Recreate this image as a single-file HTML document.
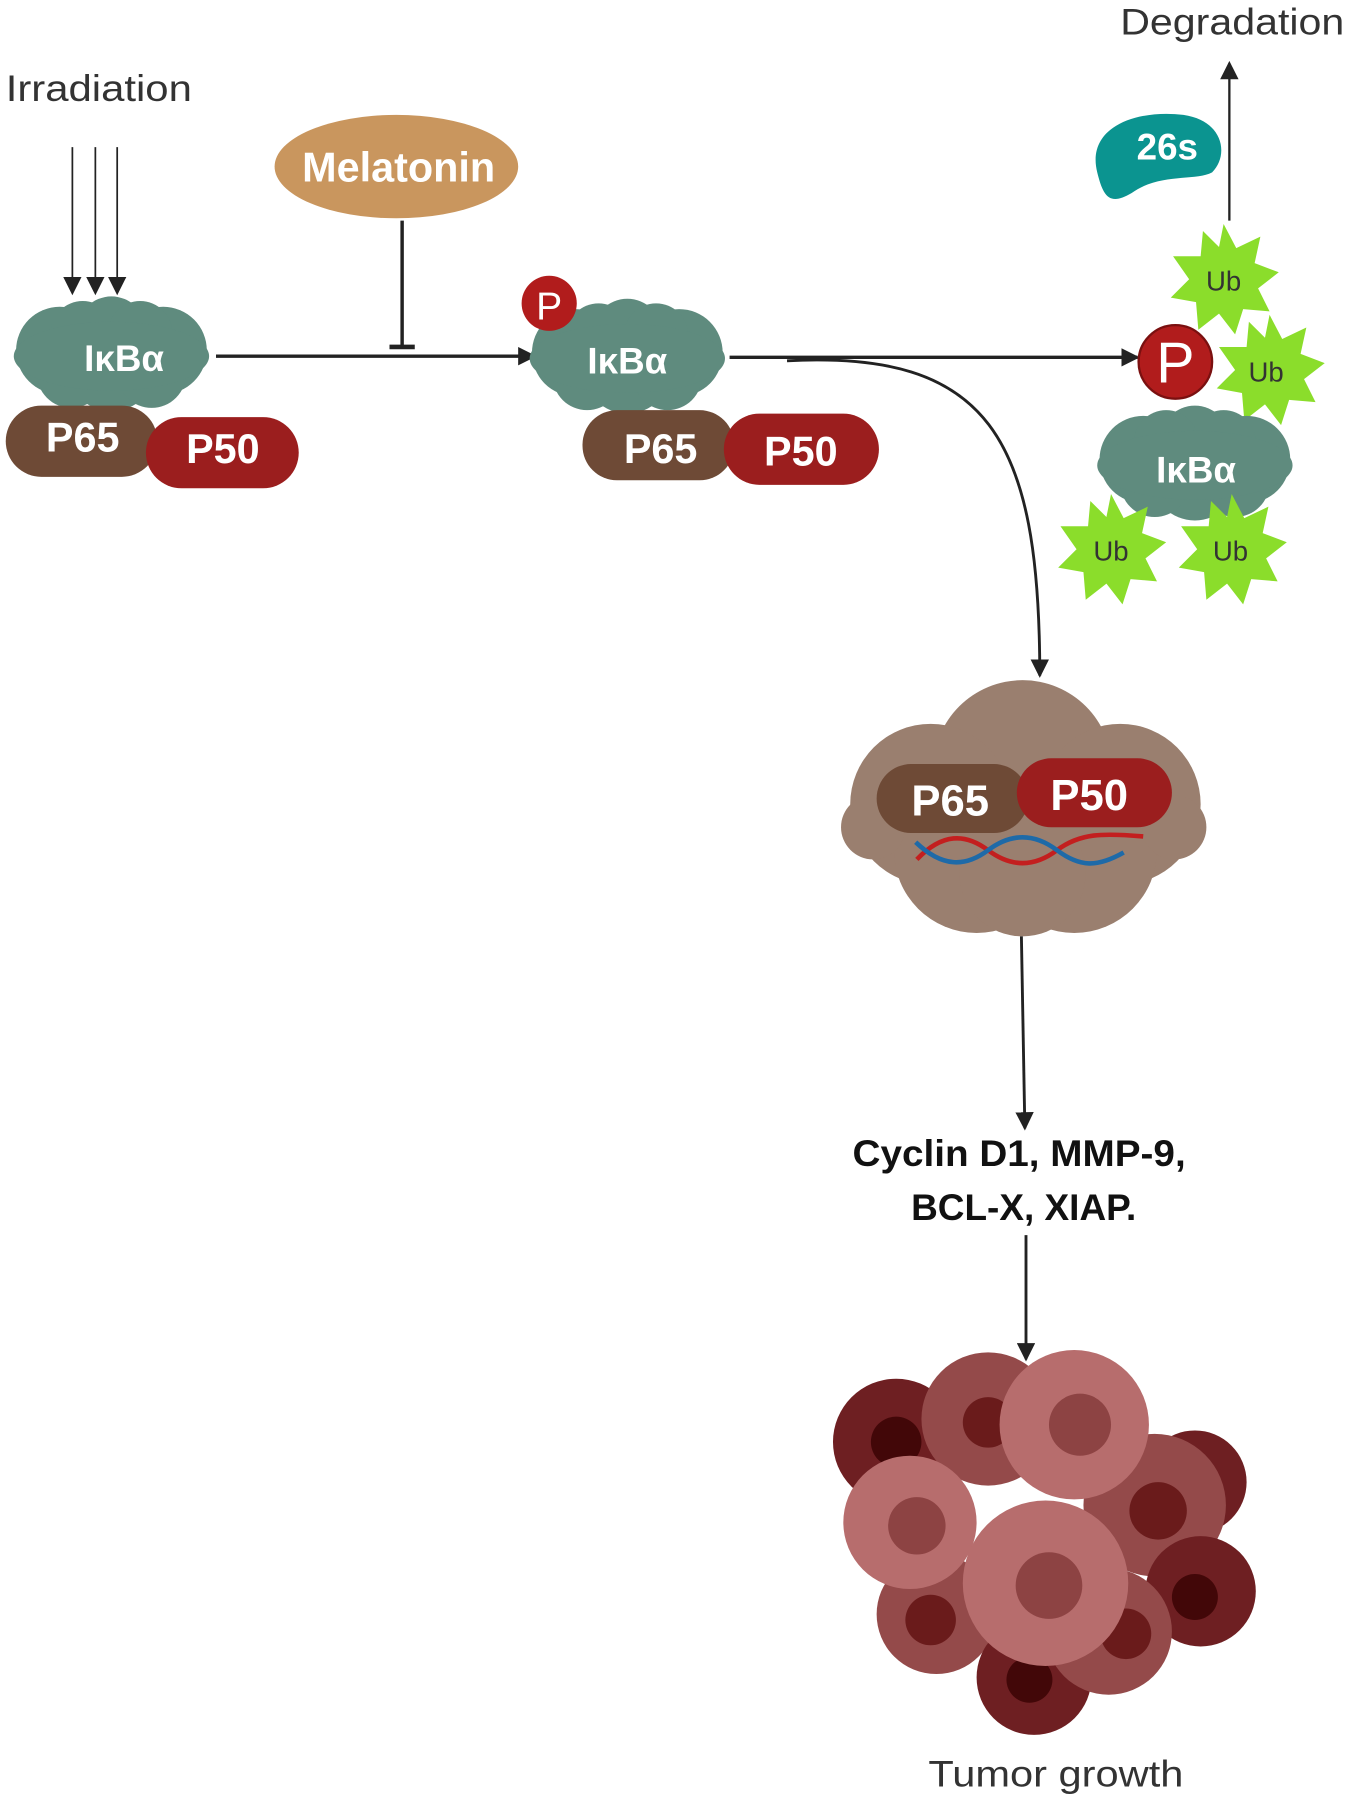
<!DOCTYPE html>
<html><head><meta charset="utf-8"><style>
html,body{margin:0;padding:0;background:#fff;}
svg{display:block;}
text{font-family:"Liberation Sans","DejaVu Sans",sans-serif;}
</style></head><body>
<svg width="1350" height="1805" viewBox="0 0 1175 1571" preserveAspectRatio="none" xmlns="http://www.w3.org/2000/svg">
<defs>
<marker id="ah2" markerWidth="16" markerHeight="16" refX="14" refY="8" orient="auto" markerUnits="userSpaceOnUse"><path d="M0,0 L16,8 L0,16 z" fill="#222"/></marker>
<g id="cloud">
<circle cx="-45" cy="-5" r="38"/><circle cx="45" cy="-5" r="38"/><circle cx="0" cy="-22" r="30"/><circle cx="-25" cy="-20" r="28"/><circle cx="25" cy="-20" r="28"/><circle cx="0" cy="10" r="38"/><circle cx="-35" cy="15" r="30"/><circle cx="35" cy="15" r="30"/><ellipse cx="0" cy="0" rx="85" ry="30"/>
</g>
<polygon id="star" points="0,-48 11,-27 32,-37 27,-14 48,-6 30,8 40,28 17,26 10,48 -4,30 -22,44 -24,20 -46,16 -30,0 -44,-20 -20,-20 -18,-42 -4,-28" fill="#8bdd2b"/>
</defs>

<text x="5" y="88" font-size="32" fill="#333" textLength="162" lengthAdjust="spacingAndGlyphs">Irradiation</text>
<g stroke="#222" stroke-width="1.5" fill="none">
<line x1="63" y1="128" x2="63" y2="255" marker-end="url(#ah2)"/>
<line x1="83" y1="128" x2="83" y2="255" marker-end="url(#ah2)"/>
<line x1="102" y1="128" x2="102" y2="255" marker-end="url(#ah2)"/>
</g>

<use href="#cloud" x="97" y="310" fill="#5f8b7e"/>
<text x="108" y="323" font-size="32" fill="#fff" text-anchor="middle" font-weight="bold">IκBα</text>
<rect x="5" y="353" width="132" height="62" rx="31" fill="#6e4a36"/>
<text x="72" y="393" font-size="36" fill="#fff" text-anchor="middle" font-weight="bold">P65</text>
<rect x="127" y="363" width="133" height="62" rx="31" fill="#9b1e1e"/>
<text x="194" y="403" font-size="36" fill="#fff" text-anchor="middle" font-weight="bold">P50</text>

<ellipse cx="345" cy="145" rx="106" ry="45" fill="#c9965e"/>
<text x="347" y="158" font-size="36" fill="#fff" text-anchor="middle" font-weight="bold">Melatonin</text>
<line x1="350" y1="192" x2="350" y2="302" stroke="#222" stroke-width="3"/>
<line x1="339" y1="302" x2="361" y2="302" stroke="#222" stroke-width="4"/>

<line x1="188" y1="310" x2="465" y2="310" stroke="#222" stroke-width="3" marker-end="url(#ah2)"/>

<use href="#cloud" x="546" y="312" fill="#5f8b7e"/>
<circle cx="478" cy="264" r="24" fill="#b11c1c"/>
<text x="478" y="278" font-size="34" fill="#fff" text-anchor="middle">P</text>
<text x="546" y="325" font-size="32" fill="#fff" text-anchor="middle" font-weight="bold">IκBα</text>
<rect x="507" y="357" width="132" height="61" rx="30" fill="#6e4a36"/>
<text x="575" y="403" font-size="36" fill="#fff" text-anchor="middle" font-weight="bold">P65</text>
<rect x="630" y="360" width="135" height="62" rx="31" fill="#9b1e1e"/>
<text x="697" y="405" font-size="36" fill="#fff" text-anchor="middle" font-weight="bold">P50</text>

<line x1="635" y1="311" x2="990" y2="311" stroke="#222" stroke-width="3" marker-end="url(#ah2)"/>
<path d="M685,314 C860,305 905,380 905,588" stroke="#222" stroke-width="2.5" fill="none" marker-end="url(#ah2)"/>

<path d="M955,150 C945,110 990,95 1030,100 C1065,105 1070,135 1055,150 C1040,158 1010,150 985,168 C965,180 960,170 955,150 z" fill="#0b9490"/>
<text x="1016" y="139" font-size="32" fill="#fff" text-anchor="middle" font-weight="bold">26s</text>
<line x1="1070" y1="192" x2="1070" y2="55" stroke="#222" stroke-width="2" marker-end="url(#ah2)"/>
<text x="975" y="30" font-size="32" fill="#333" textLength="195" lengthAdjust="spacingAndGlyphs">Degradation</text>

<use href="#star" x="1065" y="243"/>
<use href="#star" x="1105" y="322"/>
<use href="#cloud" x="1040" y="405" fill="#5f8b7e"/>
<use href="#star" x="967" y="478"/>
<use href="#star" x="1072" y="478"/>
<circle cx="1023" cy="315" r="32" fill="#b11c1c" stroke="#7a1010" stroke-width="2"/>
<text x="1023" y="333" font-size="50" fill="#fff" text-anchor="middle">P</text>
<text x="1065" y="253" font-size="24" fill="#333" text-anchor="middle">Ub</text>
<text x="1102" y="332" font-size="24" fill="#333" text-anchor="middle">Ub</text>
<text x="1041" y="420" font-size="32" fill="#fff" text-anchor="middle" font-weight="bold">IκBα</text>
<text x="967" y="488" font-size="24" fill="#333" text-anchor="middle">Ub</text>
<text x="1071" y="488" font-size="24" fill="#333" text-anchor="middle">Ub</text>

<g fill="#9a7f6f">
<circle cx="890" cy="670" r="78"/><circle cx="810" cy="700" r="70"/><circle cx="975" cy="700" r="70"/><circle cx="850" cy="740" r="72"/><circle cx="935" cy="740" r="72"/><circle cx="760" cy="720" r="28"/><circle cx="1022" cy="720" r="28"/><circle cx="890" cy="760" r="55"/>
</g>
<rect x="763" y="665" width="132" height="60" rx="30" fill="#6e4a36"/>
<text x="827" y="710" font-size="38" fill="#fff" text-anchor="middle" font-weight="bold">P65</text>
<rect x="885" y="660" width="135" height="60" rx="30" fill="#9b1e1e"/>
<text x="948" y="705" font-size="38" fill="#fff" text-anchor="middle" font-weight="bold">P50</text>
<path d="M798,748 C820,725 840,725 860,740 S900,755 920,740 S960,725 995,728" stroke="#c31f1f" stroke-width="4" fill="none"/>
<path d="M797,733 C820,755 840,755 860,740 S900,725 920,740 S955,755 978,742" stroke="#1e6aa8" stroke-width="4" fill="none"/>

<line x1="889" y1="815" x2="892" y2="982" stroke="#222" stroke-width="2.5" marker-end="url(#ah2)"/>
<text x="742" y="1015" font-size="32" fill="#111" font-weight="bold" textLength="290" lengthAdjust="spacingAndGlyphs">Cyclin D1, MMP-9,</text>
<text x="793" y="1062" font-size="32" fill="#111" font-weight="bold" textLength="196" lengthAdjust="spacingAndGlyphs">BCL-X, XIAP.</text>
<line x1="893" y1="1075" x2="893" y2="1183" stroke="#222" stroke-width="2.5" marker-end="url(#ah2)"/>

<g>
<circle cx="780" cy="1255" r="55" fill="#6e1f22"/><circle cx="780" cy="1255" r="22" fill="#420708"/>
<circle cx="860" cy="1235" r="58" fill="#944a4a"/><circle cx="860" cy="1238" r="22" fill="#6a1b1b"/>
<circle cx="1040" cy="1290" r="45" fill="#6e1f22"/>
<circle cx="1005" cy="1310" r="62" fill="#944a4a"/><circle cx="1008" cy="1315" r="25" fill="#6a1b1b"/>
<circle cx="935" cy="1240" r="65" fill="#b76d6d"/><circle cx="940" cy="1240" r="27" fill="#8d4343"/>
<circle cx="1045" cy="1385" r="48" fill="#6e1f22"/><circle cx="1040" cy="1390" r="20" fill="#420708"/>
<circle cx="815" cy="1405" r="52" fill="#944a4a"/><circle cx="810" cy="1410" r="22" fill="#6a1b1b"/>
<circle cx="900" cy="1460" r="50" fill="#6e1f22"/><circle cx="896" cy="1462" r="20" fill="#420708"/>
<circle cx="965" cy="1420" r="55" fill="#944a4a"/><circle cx="980" cy="1422" r="22" fill="#6a1b1b"/>
<circle cx="792" cy="1325" r="58" fill="#b76d6d"/><circle cx="798" cy="1328" r="25" fill="#8d4343"/>
<circle cx="910" cy="1378" r="72" fill="#b76d6d"/><circle cx="913" cy="1380" r="29" fill="#8d4343"/>
</g>
<text x="808" y="1555" font-size="32" fill="#333" textLength="222" lengthAdjust="spacingAndGlyphs">Tumor growth</text>
</svg>
</body></html>
